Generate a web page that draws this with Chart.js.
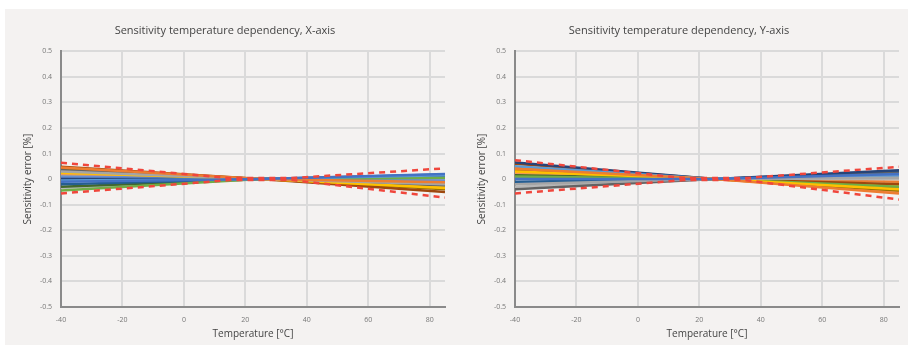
<!DOCTYPE html>
<html>
<head>
<meta charset="utf-8">
<script src="https://cdn.jsdelivr.net/npm/chart.js@4.4.0/dist/chart.umd.min.js"></script>
<style>
  html, body { margin: 0; padding: 0; background: #fff; }
  body { width: 908px; height: 345px; position: relative; overflow: hidden; }
  #bg { position: absolute; left: 5px; top: 9px; right: 0; bottom: 0; background: #f4f2f1; }
  .box { position: absolute; top: 0; width: 454px; height: 345px; }
  #left { left: 0; }
  #right { left: 454px; }
</style>
</head>
<body>
<div id="bg"></div>
<div class="box" id="left"><canvas id="chartX"></canvas></div>
<div class="box" id="right"><canvas id="chartY"></canvas></div>
<script>
// temperatures where each sample curve was read (°C)
const temps = [-40, 25, 85];
const limitTemps = [-40, 15, 35, 85];
const yTicks = [-0.5, -0.4, -0.3, -0.2, -0.1, 0, 0.1, 0.2, 0.3, 0.4, 0.5];
const xTicks = [-40, -20, 0, 20, 40, 60, 80];

const palette = ['#4472c4','#ed7d31','#a5a5a5','#ffc000','#5b9bd5','#70ad47','#264478','#9e480e',
                 '#636363','#997300','#255e91','#43682b','#698ed0','#f1975a','#b7b7b7','#ffcd33',
                 '#4472c4','#ed7d31'];

// X-axis sensitivity error [%] per sample at -40 / 25 / 85 °C
const xSamples = [
  [-0.010, 0, 0.020],
  [0.045, 0, -0.012],
  [0.030, 0, -0.020],
  [0.025, 0, -0.035],
  [-0.005, 0, 0.015],
  [-0.045, 0, 0.005],
  [0.000, 0, 0.010],
  [0.048, 0, -0.050],
  [0.035, 0, -0.025],
  [0.040, 0, -0.040],
  [-0.020, 0, 0.018],
  [-0.030, 0, 0.008],
  [0.010, 0, -0.005],
  [0.020, 0, -0.015],
  [-0.035, 0, 0.002],
  [0.015, 0, -0.030],
  [0.005, 0, 0.012],
  [0.028, 0, -0.008]
];
const xUpper = [0.064, 0.004, 0.004, 0.042];
const xLower = [-0.056, -0.004, -0.004, -0.072];

// Y-axis sensitivity error [%] per sample at -40 / 25 / 85 °C
const ySamples = [
  [0.000, 0, 0.020],
  [0.040, 0, -0.056],
  [-0.020, 0, 0.005],
  [0.030, 0, -0.040],
  [0.050, 0, 0.010],
  [0.010, 0, -0.030],
  [0.065, 0, 0.035],
  [0.060, 0, -0.020],
  [-0.040, 0, 0.025],
  [0.035, 0, -0.045],
  [-0.010, 0, 0.030],
  [0.015, 0, -0.035],
  [0.005, 0, 0.015],
  [0.025, 0, -0.050],
  [-0.030, 0, 0.000],
  [0.020, 0, -0.025],
  [-0.015, 0, 0.022],
  [0.045, 0, -0.010]
];
const yUpper = [0.074, 0.004, 0.004, 0.048];
const yLower = [-0.056, -0.004, -0.004, -0.080];

function pts(xs, ys) {
  return xs.map((x, i) => ({ x: x, y: ys[i] }));
}

function makeChart(id, title, samples, upper, lower) {
  const datasets = [];
  [upper, lower].forEach(lim => {
    datasets.push({
      data: pts(limitTemps, lim),
      borderColor: '#f0463c',
      borderWidth: 2.5,
      borderDash: [6, 5],
      pointRadius: 0,
      fill: false
    });
  });
  samples.forEach((s, i) => {
    datasets.push({
      data: pts(temps, s),
      borderColor: palette[i % palette.length],
      borderWidth: 2.5,
      pointRadius: 0,
      fill: false
    });
  });

  return new Chart(document.getElementById(id), {
    type: 'line',
    data: { datasets: datasets },
    options: {
      responsive: true,
      maintainAspectRatio: false,
      animation: false,
      layout: { padding: { left: 5, right: 9, top: 3, bottom: 2 } },
      plugins: {
        legend: { display: false },
        tooltip: { enabled: false },
        title: {
          display: true,
          text: title,
          color: '#444',
          font: { family: 'Open Sans', size: 11, weight: 'normal' },
          padding: { top: 21, bottom: 14 }
        }
      },
      scales: {
        x: {
          type: 'linear',
          min: -40,
          max: 85,
          afterBuildTicks: s => { s.ticks = xTicks.map(v => ({ value: v })); },
          afterFit: s => { s.height = 36; },
          ticks: { color: '#777', font: { family: 'Open Sans', size: 7 }, padding: 9, maxRotation: 0 },
          grid: { color: '#dadada', lineWidth: 2, drawTicks: false },
          border: { color: '#8a8a8a', width: 2 },
          title: {
            display: true,
            text: 'Temperature [°C]',
            color: '#444',
            font: { family: 'Open Sans', size: 10 },
            padding: { top: 0, bottom: 3 }
          }
        },
        y: {
          min: -0.5,
          max: 0.5,
          afterBuildTicks: s => { s.ticks = yTicks.map(v => ({ value: v })); },
          afterFit: s => { s.width = 56; },
          ticks: {
            color: '#777',
            font: { family: 'Open Sans', size: 7 },
            padding: 9,
            callback: v => String(Math.round(v * 10) / 10)
          },
          grid: { color: '#dadada', lineWidth: 2, drawTicks: false },
          border: { color: '#8a8a8a', width: 2 },
          title: {
            display: true,
            text: 'Sensitivity error [%]',
            color: '#444',
            font: { family: 'Open Sans', size: 10 },
            padding: { top: 17, bottom: 0 }
          }
        }
      }
    }
  });
}

makeChart('chartX', 'Sensitivity temperature dependency, X-axis', xSamples, xUpper, xLower);
makeChart('chartY', 'Sensitivity temperature dependency, Y-axis', ySamples, yUpper, yLower);
</script>
</body>
</html>
